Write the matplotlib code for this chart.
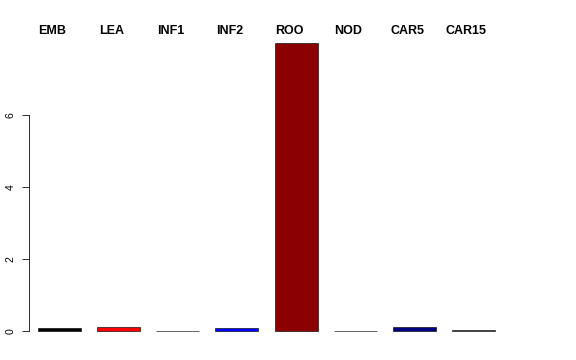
import matplotlib
matplotlib.use('Agg')
import matplotlib.pyplot as plt

labels = ['EMB', 'LEA', 'INF1', 'INF2', 'ROO', 'NOD', 'CAR5', 'CAR15']
values = [0.08, 0.11, 0.01, 0.08, 8.0, 0.01, 0.12, 0.015]
colors = ['black', 'red', 'darkgreen', 'blue', 'darkred', 'purple', 'navy', 'dimgray']
yticks = [0, 2, 4, 6]

plt.rcParams['font.family'] = ['Liberation Sans', 'DejaVu Sans']

fig = plt.figure(figsize=(8, 5), dpi=72)
ax = fig.add_axes([0, 0, 1, 1])

x = range(len(labels))
ax.bar(x, values, width=0.727, color=colors, edgecolor='black', linewidth=0.6)

# group names written above the bars
for i, lab in enumerate(labels):
    ax.text(i - 0.12, 8.33, lab, ha='center', va='center',
            fontsize=12.5, fontweight='bold')

ax.set_xlim(-1.006, 8.734)
ax.set_ylim(-0.806, 9.194)

for s in ['top', 'right', 'bottom']:
    ax.spines[s].set_visible(False)
ax.spines['left'].set_position(('data', -0.516))
ax.spines['left'].set_bounds(0, 6)
ax.spines['left'].set_linewidth(0.8)
ax.set_xticks([])
ax.set_yticks(yticks)
ax.set_yticklabels([str(t) for t in yticks], rotation=90, va='center')
ax.tick_params(axis='y', length=7, width=0.8, pad=6, labelsize=10.5)

fig.savefig('out.png', dpi=72)
